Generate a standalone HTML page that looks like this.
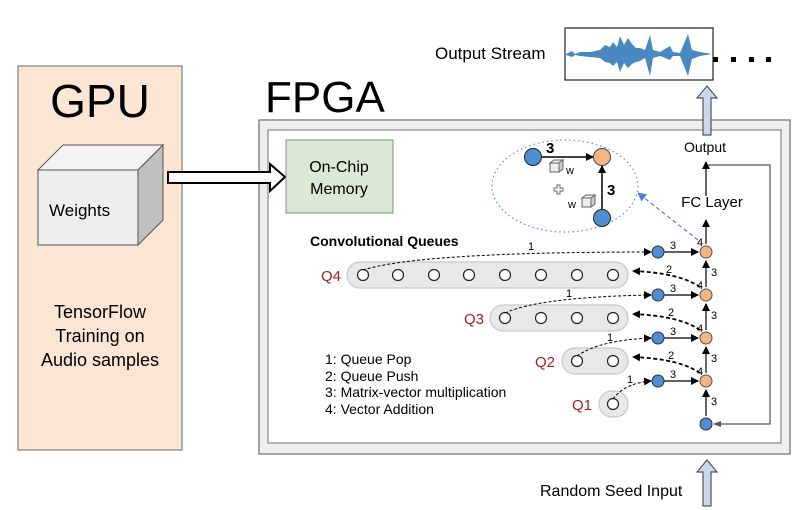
<!DOCTYPE html>
<html><head><meta charset="utf-8"><style>
html,body{margin:0;padding:0;background:#fff;}
svg{display:block;font-family:"Liberation Sans",Arial,sans-serif;}
</style></head><body>
<svg width="800" height="510" viewBox="0 0 800 510" xmlns="http://www.w3.org/2000/svg">
<defs>
<marker id="ah" markerWidth="8" markerHeight="8" refX="7" refY="4" orient="auto" markerUnits="userSpaceOnUse"><path d="M0,0 L8,4 L0,8 z" fill="#000"/></marker>
<marker id="ahg" markerWidth="8" markerHeight="8" refX="7" refY="4" orient="auto" markerUnits="userSpaceOnUse"><path d="M0,1 L8,4 L0,7 z" fill="#555"/></marker>
<marker id="ahb" markerWidth="9" markerHeight="9" refX="8" refY="4.5" orient="auto" markerUnits="userSpaceOnUse"><path d="M0,0 L9,4.5 L0,9 z" fill="#4a7fd6"/></marker>
</defs>
<!-- GPU -->
<rect x="18" y="66" width="164" height="384" fill="#fbe5d3" stroke="#999" stroke-width="1.5"/>
<text x="100" y="117" font-size="46" text-anchor="middle">GPU</text>
<polygon points="38,170 63,145 163,145 138,170" fill="#f3f3f3" stroke="#555"/>
<polygon points="138,170 163,145 163,220 138,245" fill="#c0c0c0" stroke="#555"/>
<rect x="38" y="170" width="100" height="75" fill="#eeeeee" stroke="#555"/>
<text x="49" y="216" font-size="17">Weights</text>
<text x="100" y="318" font-size="18" text-anchor="middle">TensorFlow</text>
<text x="100" y="342" font-size="18" text-anchor="middle">Training on</text>
<text x="100" y="366" font-size="18" text-anchor="middle">Audio samples</text>
<!-- FPGA -->
<text x="265" y="112" font-size="44">FPGA</text>
<rect x="259" y="120" width="531" height="334" fill="#efefef" stroke="#888" stroke-width="1.5"/>
<rect x="268" y="130" width="513" height="313" fill="#fff" stroke="#888" stroke-width="1.2"/>
<!-- big arrow -->
<polygon points="168,172 270,172 270,164 285,177 270,191 270,183 168,183" fill="#fff" stroke="#000" stroke-width="2"/>
<rect x="286" y="140" width="107" height="73" fill="#dae8d4" stroke="#888"/>
<text x="339" y="172" font-size="16" text-anchor="middle">On-Chip</text>
<text x="339" y="194" font-size="16" text-anchor="middle">Memory</text>
<!-- Output stream -->
<text x="435" y="59" font-size="17">Output Stream</text>
<rect x="565" y="28" width="148" height="52" fill="#fff" stroke="#222" stroke-width="1.2"/>
<polygon fill="#4a88c2" points="566,54 572,51 575,54 580,52 590,52 600,50 605,45 610,47 613,42 617,47 620,36 624,45 628,38 632,44 636,48 640,48 645,50 650,35 653,50 660,52 670,46 673,52 680,53 688,34 692,50 700,52 712,54 700,56 692,59 688,76 680,56 673,56 670,60 660,56 653,58 650,76 645,58 640,61 636,62 632,64 628,68 624,63 620,72 617,62 613,66 610,63 605,62 600,58 590,57 580,56 575,55 572,57 566,55"/>
<rect x="713" y="57" width="5" height="5" fill="#000"/>
<rect x="731" y="57" width="5" height="5" fill="#000"/>
<rect x="749" y="57" width="5" height="5" fill="#000"/>
<rect x="766" y="57" width="5" height="5" fill="#000"/>
<polygon points="707,86 717,98 711,98 711,135 703,135 703,98 697,98" fill="#c9d9f0" stroke="#555" stroke-width="1.2"/>
<text x="705" y="152" font-size="14" text-anchor="middle">Output</text>
<text x="712" y="207" font-size="15" text-anchor="middle">FC Layer</text>
<!-- Random seed -->
<text x="540" y="496" font-size="16">Random Seed Input</text>
<polygon points="707,460 717,472 711,472 711,506 703,506 703,472 697,472" fill="#c9d9f0" stroke="#555" stroke-width="1.2"/>
<!-- ellipse detail -->
<ellipse cx="565" cy="186" rx="73" ry="46" fill="none" stroke="#5b8fe0" stroke-width="1.2" stroke-dasharray="1.5,3"/>
<line x1="541" y1="157" x2="593" y2="157" stroke="#000" stroke-width="1.5" marker-end="url(#ah)"/>
<line x1="602" y1="210" x2="602" y2="166" stroke="#000" stroke-width="1.5" marker-end="url(#ah)"/>
<circle cx="533" cy="157" r="8.5" fill="#4d8fd0" stroke="#222"/>
<circle cx="602" cy="157" r="8.5" fill="#f5b585" stroke="#444"/>
<circle cx="602" cy="218" r="8.5" fill="#4d8fd0" stroke="#222"/>
<text x="546" y="153" font-size="15" font-weight="bold">3</text>
<text x="607" y="195" font-size="15" font-weight="bold">3</text>
<g stroke="#666" fill="#eee"><polygon points="550,163 554,160 563,160 559,163"/><rect x="550" y="163" width="9" height="9"/><polygon points="559,163 563,160 563,169 559,172" fill="#ccc"/></g>
<text x="566" y="174" font-size="11">w</text>
<g stroke="#666" fill="#eee"><polygon points="582,198 586,195 595,195 591,198"/><rect x="582" y="198" width="9" height="9"/><polygon points="591,198 595,195 595,204 591,207" fill="#ccc"/></g>
<text x="568" y="208" font-size="11">w</text>
<path d="M554,188 h3 v-3 h3 v3 h3 v3 h-3 v3 h-3 v-3 h-3 z" fill="#fff" stroke="#666"/>
<line x1="698" y1="240" x2="638" y2="193" stroke="#4a7fd6" stroke-width="1.2" stroke-dasharray="4,3" marker-end="url(#ahb)"/>
<!-- right column -->
<line x1="706" y1="244" x2="706" y2="220" stroke="#000" stroke-width="1.2" marker-end="url(#ah)"/>
<line x1="706" y1="196" x2="706" y2="162" stroke="#000" stroke-width="1.2" marker-end="url(#ah)"/>
<polyline points="708,165 770,165 770,424 714,424" fill="none" stroke="#555" stroke-width="1.2" marker-end="url(#ahg)"/>
<g stroke="#000" stroke-width="1.2">
<line x1="706" y1="416" x2="706" y2="390" marker-end="url(#ah)"/>
<line x1="706" y1="373" x2="706" y2="347" marker-end="url(#ah)"/>
<line x1="706" y1="330" x2="706" y2="304" marker-end="url(#ah)"/>
<line x1="706" y1="287" x2="706" y2="261" marker-end="url(#ah)"/>
<line x1="664" y1="252" x2="698" y2="252" marker-end="url(#ah)"/>
<line x1="664" y1="295" x2="698" y2="295" marker-end="url(#ah)"/>
<line x1="664" y1="338" x2="698" y2="338" marker-end="url(#ah)"/>
<line x1="664" y1="381" x2="698" y2="381" marker-end="url(#ah)"/>
</g>
<g font-size="11">
<text x="670" y="249">3</text><text x="670" y="292">3</text><text x="670" y="335">3</text><text x="670" y="378">3</text>
<text x="697" y="246">4</text><text x="697" y="289">4</text><text x="697" y="332">4</text><text x="697" y="375">4</text>
<text x="711" y="276">3</text><text x="711" y="319">3</text><text x="711" y="362">3</text><text x="711" y="405">3</text>
<text x="528" y="250">1</text><text x="566" y="297">1</text><text x="607" y="341">1</text><text x="627" y="383">1</text>
<text x="666" y="273">2</text><text x="668" y="316">2</text><text x="668" y="359">2</text>
</g>
<g fill="#f5b585" stroke="#555"><circle cx="706" cy="252" r="6"/><circle cx="706" cy="295" r="6"/><circle cx="706" cy="338" r="6"/><circle cx="706" cy="381" r="6"/></g>
<g fill="#4d8fd0" stroke="#333"><circle cx="658" cy="252" r="6"/><circle cx="658" cy="295" r="6"/><circle cx="658" cy="338" r="6"/><circle cx="658" cy="381" r="6"/><circle cx="706" cy="424" r="6"/></g>
<!-- queues -->
<text x="310" y="246" font-size="14" font-weight="bold">Convolutional Queues</text>
<g fill="#e8e8e8" stroke="#c8c8c8" stroke-width="1.2">
<rect x="347" y="262" width="281" height="26" rx="13"/>
<rect x="490" y="305" width="138" height="26" rx="13"/>
<rect x="562" y="348" width="66" height="26" rx="13"/>
<rect x="599" y="391" width="29" height="26" rx="13"/>
</g>
<g fill="#fff" stroke="#222" stroke-width="1.2">
<circle cx="363" cy="275" r="5.5"/><circle cx="398" cy="275" r="5.5"/><circle cx="434" cy="275" r="5.5"/><circle cx="469" cy="275" r="5.5"/><circle cx="505" cy="275" r="5.5"/><circle cx="541" cy="275" r="5.5"/><circle cx="577" cy="275" r="5.5"/><circle cx="613" cy="275" r="5.5"/>
<circle cx="505" cy="318" r="5.5"/><circle cx="541" cy="318" r="5.5"/><circle cx="577" cy="318" r="5.5"/><circle cx="613" cy="318" r="5.5"/>
<circle cx="577" cy="361" r="5.5"/><circle cx="613" cy="361" r="5.5"/>
<circle cx="613" cy="404" r="5.5"/>
</g>
<g fill="#a02020" font-size="15">
<text x="321" y="281">Q4</text><text x="464" y="324">Q3</text><text x="535" y="367">Q2</text><text x="572" y="410">Q1</text>
</g>
<g fill="none" stroke="#000" stroke-width="1" stroke-dasharray="3,2">
<path d="M363,270 Q420,252 651,252" marker-end="url(#ah)"/>
<path d="M505,313 Q540,297 651,295" marker-end="url(#ah)"/>
<path d="M577,356 Q600,340 651,338" marker-end="url(#ah)"/>
<path d="M613,399 Q625,383 651,381" marker-end="url(#ah)"/>
</g>
<g fill="none" stroke="#000" stroke-width="1.8" stroke-dasharray="4,2.5">
<path d="M700,287 Q680,273 633,271" marker-end="url(#ah)"/>
<path d="M700,330 Q680,316 633,314" marker-end="url(#ah)"/>
<path d="M700,373 Q680,359 633,357" marker-end="url(#ah)"/>
</g>
<g font-size="14">
<text x="325" y="364">1: Queue Pop</text>
<text x="325" y="381">2: Queue Push</text>
<text x="325" y="397">3: Matrix-vector multiplication</text>
<text x="325" y="414">4: Vector Addition</text>
</g>
</svg>
</body></html>
